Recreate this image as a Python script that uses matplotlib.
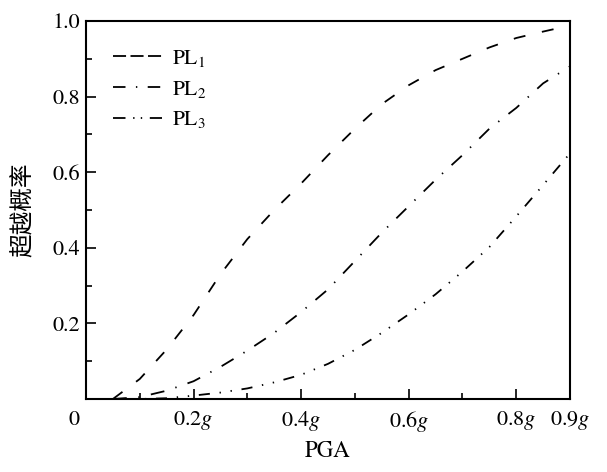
import matplotlib
matplotlib.use("Agg")
import matplotlib.pyplot as plt
from matplotlib.ticker import MultipleLocator
from matplotlib.lines import Line2D

pga = [0.05, 0.1, 0.15, 0.2, 0.25, 0.3, 0.35, 0.4, 0.45, 0.5, 0.55, 0.6,
       0.65, 0.7, 0.75, 0.8, 0.85, 0.9]
pl1 = [0.0, 0.053, 0.131, 0.222, 0.33, 0.423, 0.50, 0.57, 0.645, 0.715, 0.78,
       0.83, 0.87, 0.90, 0.93, 0.955, 0.972, 0.988]
pl2 = [0.0, 0.005, 0.022, 0.047, 0.085, 0.128, 0.175, 0.23, 0.29, 0.365, 0.44,
       0.51, 0.58, 0.645, 0.715, 0.77, 0.835, 0.88]
pl3 = [0.0, 0.0, 0.002, 0.009, 0.017, 0.028, 0.044, 0.064, 0.093, 0.130, 0.175,
       0.224, 0.277, 0.337, 0.402, 0.483, 0.566, 0.65]
series_labels = [r"PL$_1$", r"PL$_2$", r"PL$_3$"]
xtick_vals = [0.2, 0.4, 0.6, 0.8, 0.9]
xtick_labels = [r"0.2$g$", r"0.4$g$", r"0.6$g$", r"0.8$g$", r"0.9$g$"]
ytick_vals = [0.2, 0.4, 0.6, 0.8, 1.0]
ytick_labels = ["0.2", "0.4", "0.6", "0.8", "1.0"]

plt.rcParams["font.family"] = ["STIXGeneral", "Noto Sans CJK SC"]
plt.rcParams["mathtext.fontset"] = "stix"
plt.rcParams["lines.scale_dashes"] = False

fig = plt.figure(figsize=(6.07, 4.72), dpi=100)
ax = fig.add_axes([86/607, 1-399/472, (570-86)/607, (399-21)/472])

lw = 1.3
curve_dashes = [(8.6, 12.2), (10, 8.3, 1, 8.3), (8, 7, 1, 7, 1, 7)]
legend_dashes = [(9.4, 3.2), (9, 7.5, 1, 7.5), (9, 5.5, 1, 4.5, 1, 5.5)]
for ys, d in zip([pl1, pl2, pl3], curve_dashes):
    ax.plot(pga, ys, color="black", lw=lw, dashes=d)

ax.set_xlim(0, 0.9)
ax.set_ylim(0, 1.0)
ax.set_xticks(xtick_vals)
ax.set_xticklabels(xtick_labels)
ax.set_yticks(ytick_vals)
ax.set_yticklabels(ytick_labels)
ax.xaxis.set_minor_locator(MultipleLocator(0.1))
ax.yaxis.set_minor_locator(MultipleLocator(0.1))
ax.tick_params(which="both", direction="in", top=False, right=False,
               labelsize=16, width=1.2)
ax.tick_params(which="major", length=7)
ax.tick_params(which="minor", length=4)
ax.tick_params(axis="x", pad=7)
ax.tick_params(axis="y", pad=4.5)
for s in ax.spines.values():
    s.set_linewidth(1.5)

ax.text(-0.0225, -0.03, "0", transform=ax.transData, ha="center", va="top",
        fontsize=16)

ax.set_xlabel("PGA", fontsize=16.5)
ax.xaxis.set_label_coords(0.5, -0.11)
ax.set_ylabel("超越概率", fontsize=17, family=["Noto Sans CJK SC"])
ax.yaxis.set_label_coords(-0.105, 0.5)

handles = [Line2D([], [], color="black", lw=lw, dashes=d) for d in legend_dashes]
leg = ax.legend(handles, series_labels, loc="upper left", frameon=False,
                fontsize=15.5, handlelength=2.28, labelspacing=0.45,
                borderaxespad=0, borderpad=0, handletextpad=0.46,
                bbox_to_anchor=((113-86)/484, 1-(48-21)/378))

fig.savefig("out.png", dpi=100)
